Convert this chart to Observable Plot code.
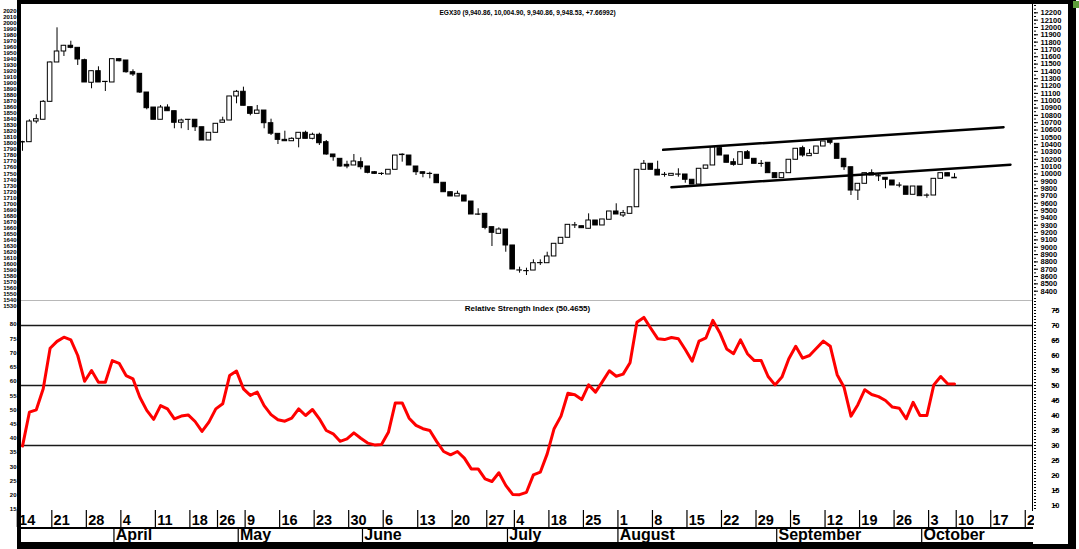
<!DOCTYPE html>
<html><head><meta charset="utf-8">
<script src="https://cdn.jsdelivr.net/npm/d3@7"></script>
<script src="https://cdn.jsdelivr.net/npm/@observablehq/plot@0.6"></script>
<style>
html,body{margin:0;padding:0;background:#fff;}
#chart{position:relative;width:1079px;height:549px;overflow:hidden;background:#fff;}
#chart > *{position:absolute;}
</style></head><body><div id="chart"></div>
<script>
// ---- data (one entry per trading day, index = position on the time axis) ----
const opens = [10430,10434,10716,10740,10985,11522,11672,11750,11722,11553,11245,11403,11258,11249,11567,11549,11389,11367,11112,10907,10740,10907,10857,10699,10740,10740,10638,10457,10562,10699,10730,11058,11122,10912,10821,10866,10693,10548,10466,10447,10480,10562,10480,10535,10434,10266,10207,10125,10116,10161,10102,10024,10002,9993,10057,10258,10252,10102,10024,10002,9989,9880,9751,9693,9706,9624,9447,9456,9274,9183,9242,9024,8682,8673,8682,8782,8782,8874,9047,9129,9297,9287,9252,9365,9297,9375,9488,9433,9456,9546,10057,10139,10057,9989,9975,9993,9993,9921,9856,10071,10116,10352,10252,10161,10125,10297,10207,10139,10153,10011,9943,10011,10194,10352,10243,10275,10375,10457,10412,10207,10092,9774,9866,10011,9970,9948,9911,9843,9829,9716,9829,9706,9706,9934,10011,9940.86];
const highs = [10447,10740,10808,11003,11530,11995,11755,11812,11722,11567,11403,11463,11260,11570,11575,11549,11422,11367,11112,10907,10935,10944,10857,10748,10742,10740,10638,10562,10685,10775,11058,11140,11185,10912,10935,10866,10748,10548,10584,10494,10562,10584,10557,10557,10457,10266,10207,10174,10266,10221,10102,10034,10016,10057,10252,10275,10252,10102,10024,10024,9989,9880,9751,9765,9706,9624,9525,9456,9274,9265,9242,9024,8728,8714,8828,8828,8932,9047,9129,9306,9338,9287,9456,9365,9379,9488,9593,9502,9546,10057,10184,10139,10174,10020,10002,10071,9993,9921,10071,10116,10365,10365,10252,10207,10297,10320,10207,10184,10153,10011,10011,10194,10344,10379,10334,10375,10443,10471,10412,10207,10092,9866,10011,10057,10002,9948,9911,9880,9829,9829,9829,9729,9934,10011,10011,10004.9];
const lows = [10310,10434,10685,10740,10980,11522,11604,11709,11481,11249,11163,11249,11126,11249,11530,11376,11331,11099,10876,10740,10740,10857,10617,10617,10593,10580,10457,10457,10562,10699,10730,10958,10931,10794,10821,10617,10525,10402,10447,10447,10357,10480,10466,10389,10256,10174,10092,10071,10116,10057,10002,9993,9979,9993,10057,10161,10116,9979,9948,9934,9874,9751,9693,9693,9624,9447,9433,9238,9010,9183,8932,8696,8646,8614,8682,8751,8782,8874,9047,9129,9256,9260,9252,9297,9297,9375,9447,9406,9456,9546,10057,10057,9979,9956,9975,9956,9874,9856,9856,10071,10116,10252,10153,10106,10125,10207,10139,10092,10011,9943,9943,10011,10194,10229,10243,10275,10375,10398,10207,10048,9706,9638,9866,9979,9897,9798,9843,9811,9716,9716,9697,9669,9706,9934,9966,9940.86];
const closes = [10436,10716,10748,10985,11522,11672,11750,11722,11563,11249,11403,11249,11255,11567,11539,11389,11358,11112,10898,10740,10907,10857,10699,10730,10738,10638,10457,10562,10685,10730,11058,11122,10931,10821,10866,10693,10550,10466,10447,10480,10562,10480,10535,10420,10266,10229,10102,10102,10170,10092,10016,10002,10000,10057,10252,10264,10116,10024,10002,10000,9874,9751,9693,9729,9624,9447,9445,9265,9197,9242,9024,8696,8684,8675,8782,8784,8874,9047,9129,9306,9300,9260,9365,9297,9379,9488,9447,9465,9546,10057,10139,10057,9979,9987,10002,9991,9921,9856,10071,10116,10365,10252,10153,10125,10297,10207,10139,10137,10011,9943,10011,10194,10344,10252,10275,10375,10443,10426,10207,10092,9774,9866,10011,9979,9968,9921,9843,9841,9716,9829,9697,9704,9934,10011,9966,9948.53];
const rsiValues = [29.8,41.1,41.9,48.9,62.4,64.7,66.1,65.2,60,51.4,55,51.1,51.1,58.3,57.4,53.3,52.2,46.1,41.7,38.7,43.3,42.2,38.9,39.8,40.2,38,34.7,37.8,42.2,43.9,53.3,54.8,48.9,46.7,47.8,43.3,40.3,38.6,38.1,39.1,42.2,40,42,38.9,35,33.9,31.4,32.2,34.2,32.4,30.8,30.2,30.3,34.4,44.2,44.2,39.1,36.7,35.6,35,31.3,28,26.9,28,25.8,22.2,22.2,18.9,18,20.9,16.7,13.7,13.6,14.4,20.2,21.1,27.2,35.6,39.8,47.4,46.9,45.3,50.2,47.8,51.3,54.9,53.1,53.8,57.6,71.1,72.7,69.1,65.6,65.3,66,65.6,62,58.1,64.8,65.9,71.7,67.6,62.2,60.6,65.2,60.6,58.3,58.3,53,50.2,52.8,58.9,63.1,59.1,60,62.4,64.8,63.1,53.6,49.4,39.8,43.6,48.6,47,46.3,45,42.8,42.4,38.9,44.4,40,40,50.2,53,50.6,50.5];

const titleText = "EGX30 (9,940.86, 10,004.90, 9,940.86, 9,948.53, +7.66992)";
const rsiTitle = "Relative Strength Index (50.4655)";

// week ticks: trading-day index of each labelled Monday
const dayTickIdx = [-1,4,9,14,19,24,28,32,37,42,47,52,57,62,67,71,76,81,86,91,96,101,106,111,116,121,126,131,135,140,145];
const dayTickLabels = ["14","21","28","4","11","18","26","9","16","23","30","6","13","20","27","4","18","25","1","8","15","22","29","5","12","19","26","3","10","17","24"];
// first trading day of each month
const monthIdx = [13,31,49,70,86,109,130];
const monthLabels = ["April","May","June","July","August","September","October"];

// channel lines (index, price)
const upperChannelIdx = [92.8, 142.1];
const upperChannelVal = [10330, 10638];
const lowerChannelIdx = [94.0, 143.1];
const lowerChannelVal = [9820, 10127];

const priceTicks = d3.range(8400, 12201, 100);
const priceMinorTicks = d3.range(8300, 12351, 50);
const leftPriceTicks = d3.range(1530, 2021, 10);
const rsiTicks = d3.range(10, 76, 5);
const rsiMinorTicks = d3.range(9, 79, 1);
const leftRsiTicks = d3.range(15, 81, 5);
const rsiLevels = [30, 50, 70];

// ---- build ----
const chart = document.getElementById("chart");
const font = "'Liberation Sans', Arial, Helvetica, sans-serif";
const baseStyle = {fontFamily: font, background: "transparent", overflow: "visible", color: "#000"};
function place(node, left, top) { node.style.left = left + "px"; node.style.top = top + "px"; chart.appendChild(node); }
function box(left, top, w, h, color) { const d = document.createElement("div"); d.style.cssText = `position:absolute;left:${left}px;top:${top}px;width:${w}px;height:${h}px;background:${color}`; chart.appendChild(d); }

const candles = opens.map((o, i) => ({i, open: o, high: highs[i], low: lows[i], close: closes[i]}));
const upCandles = candles.filter(d => d.close >= d.open);
const downCandles = candles.filter(d => d.close < d.open);
const rsiData = rsiValues.map((v, i) => ({i, v}));
const upper = upperChannelIdx.map((i, j) => ({i, v: upperChannelVal[j]}));
const lower = lowerChannelIdx.map((i, j) => ({i, v: lowerChannelVal[j]}));
const dayMap = new Map(dayTickIdx.map((k, j) => [k, dayTickLabels[j]]));
const monthMap = new Map(monthIdx.map((k, j) => [k, monthLabels[j]]));

const xDomain = [-0.145, 146.44];
const W = 1079, ML = 21, MR = 46;
const hw = 0.33;

const rsiDomain = [8.333, 78.333];
const rsiPlot = Plot.plot({
  width: W, height: 249, marginLeft: ML, marginRight: MR, marginTop: 0, marginBottom: 39,
  style: baseStyle,
  x: {domain: xDomain, label: null},
  y: {domain: rsiDomain, label: null},
  marks: [
    Plot.ruleY([rsiDomain[1]], {stroke: "#b8b8b8", strokeWidth: 1}),
    Plot.ruleY(rsiLevels, {stroke: "#1a1a1a", strokeWidth: 1.5}),
    Plot.line(rsiData, {x: "i", y: "v", stroke: "#ff0000", strokeWidth: 3, strokeLinejoin: "round"}),
    Plot.text([rsiTitle], {frameAnchor: "top", dy: 5, fontSize: 8, fontWeight: "bold"}),
    Plot.axisY({anchor: "right", label: null, ticks: rsiTicks, tickSize: 4, tickPadding: 3, textAnchor: "end", dx: 19, fontSize: 7.5, fontWeight: "bold", tickFormat: d => String(d)}),
    Plot.axisY({anchor: "right", label: null, ticks: rsiMinorTicks, tickSize: 2, tickFormat: () => ""}),
    Plot.axisX({anchor: "bottom", label: null, ticks: dayTickIdx, tickSize: 17, dx: 1.7, tickFormat: () => "", strokeWidth: 1.2}),
    Plot.axisX({anchor: "bottom", label: null, ticks: dayTickIdx, tickSize: 0, tickPadding: 4.6, dx: 3.5, textAnchor: "start", fontSize: 14.5, fontWeight: "bold", tickFormat: d => dayMap.get(d)}),
    Plot.axisX({anchor: "bottom", label: null, ticks: monthIdx, tickSize: 15, dy: 17, dx: 1.7, tickFormat: () => "", strokeWidth: 1.2}),
    Plot.axisX({anchor: "bottom", label: null, ticks: monthIdx, tickSize: 0, tickPadding: 1.4, dy: 17, dx: 3.5, textAnchor: "start", fontSize: 16, fontWeight: "bold", tickFormat: d => monthMap.get(d)})
  ]
});
place(rsiPlot, 0, 300);

const pricePlot = Plot.plot({
  width: W, height: 300, marginLeft: ML, marginRight: MR, marginTop: 0, marginBottom: 0,
  style: baseStyle,
  x: {domain: xDomain, axis: null, label: null},
  y: {domain: [8273, 12368], label: null},
  marks: [
    Plot.ruleX(candles, {x: "i", y1: "low", y2: "high", stroke: "#000", strokeWidth: 1}),
    Plot.rect(upCandles, {x1: d => d.i - hw, x2: d => d.i + hw, y1: "open", y2: "close", fill: "#fff", stroke: "#000", strokeWidth: 1}),
    Plot.rect(downCandles, {x1: d => d.i - hw, x2: d => d.i + hw, y1: "open", y2: "close", fill: "#000", stroke: "#000", strokeWidth: 1}),
    Plot.line(upper, {x: "i", y: "v", stroke: "#000", strokeWidth: 2.5}),
    Plot.line(lower, {x: "i", y: "v", stroke: "#000", strokeWidth: 2.5}),
    Plot.axisY({anchor: "right", label: null, ticks: priceTicks, tickSize: 4, tickPadding: 3, fontSize: 7.5, fontWeight: "bold", tickFormat: d => String(d)}),
    Plot.axisY({anchor: "right", label: null, ticks: priceMinorTicks, tickSize: 2, tickFormat: () => ""}),
    Plot.text([titleText], {frameAnchor: "top", dy: 10, fontSize: 6.6, fontWeight: "bold"})
  ]
});
place(pricePlot, 0, 0);

const leftPrice = Plot.plot({
  width: 18, height: 310, marginLeft: 17, marginRight: 1, marginTop: 0, marginBottom: 0,
  style: baseStyle,
  y: {domain: [1522.9, 2037.1], label: null},
  marks: [Plot.axisY({anchor: "left", label: null, ticks: leftPriceTicks, tickSize: 0, tickPadding: 1, fontSize: 6, fontWeight: "bold", tickFormat: d => String(d)})]
});
place(leftPrice, 0, 0);

const leftRsi = Plot.plot({
  width: 18, height: 249, marginLeft: 17, marginRight: 1, marginTop: 0, marginBottom: 0,
  style: baseStyle,
  y: {domain: [0.94, 88.43], label: null},
  marks: [Plot.axisY({anchor: "left", label: null, ticks: leftRsiTicks, tickSize: 0, tickPadding: 1, fontSize: 6, fontWeight: "bold", tickFormat: d => String(d)})]
});
place(leftRsi, 0, 300);

// frame decorations
box(1034, 511, 34, 33, "#fff");       // clip of date row past the axis
box(21, 527, 1012, 1.5, "#000");       // line between day row and month row
box(21, 542, 1012, 1.5, "#000");
box(1032, 4, 1, 507, "#000");          // right axis line
box(17, 0, 1059, 4, "#000");           // top border
box(17, 0, 4, 549, "#000");            // left bar
box(1068, 0, 8, 549, "#000");          // right border
box(17, 544, 1059, 5, "#000");         // bottom border
box(1073, 1, 6, 7, "#5f9e3a");         // small marker
</script></body></html>
